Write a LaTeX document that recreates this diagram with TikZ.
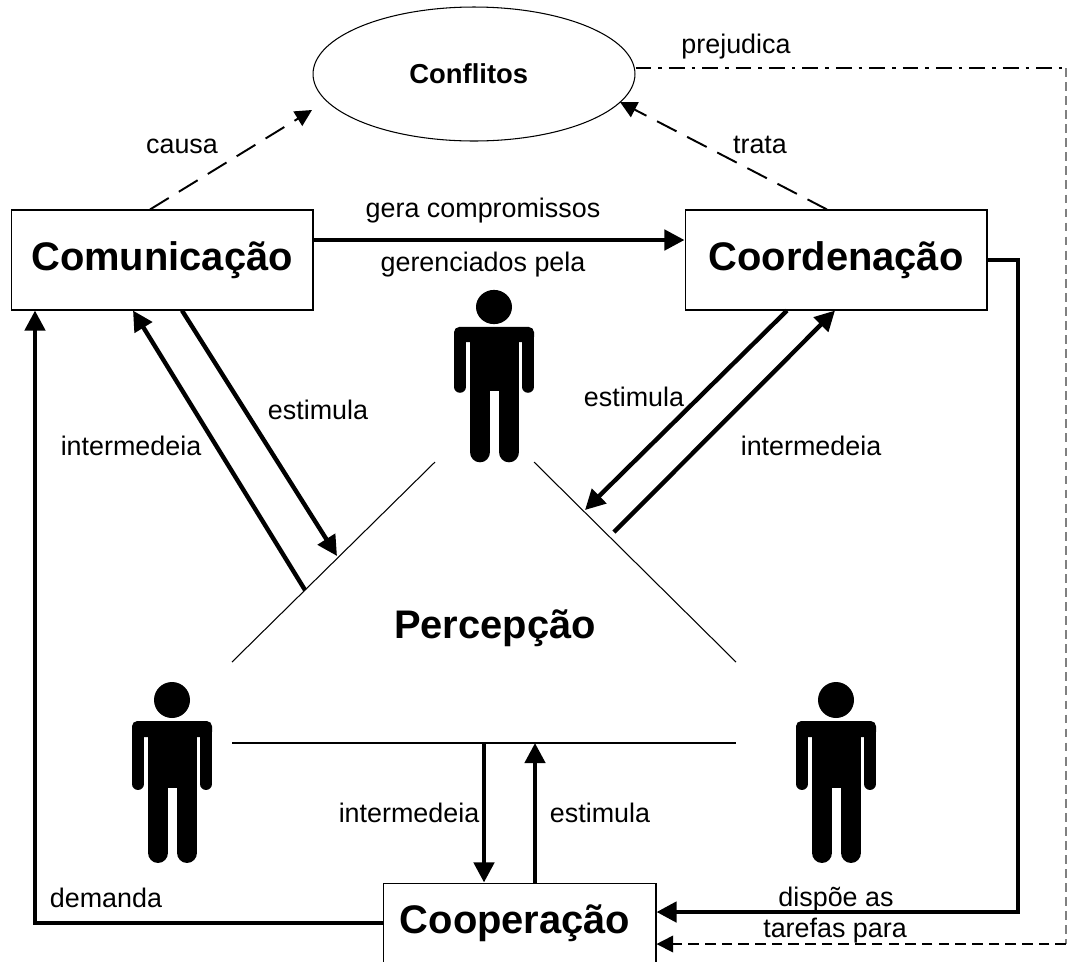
\documentclass[tikz,border=0pt]{standalone}
\usepackage{fontspec}
\setmainfont{Liberation Sans}
\usetikzlibrary{arrows.meta,calc,shapes.geometric}
\newcommand{\boxfont}{\fontsize{22.7}{26}\bfseries\selectfont}
\newcommand{\labelfont}{\fontsize{15.3}{18}\selectfont}
\tikzset{
  box/.style={draw, line width=0.6pt, fill=white, minimum width=6.04cm, minimum height=2cm, inner sep=0pt, font=\boxfont},
  lbl/.style={inner sep=0pt, font=\labelfont},
  thick arrow/.style={line width=2.5pt, -{Triangle[length=11.4pt,width=11.4pt]}},
  dash arrow/.style={line width=1.1pt, dash pattern=on 12.5pt off 6.8pt, -{Triangle[length=9.5pt,width=9.5pt]}},
  thin line/.style={line width=0.6pt},
  person/.pic={
    \fill (0,0) circle (18);
    \fill[rounded corners=3pt] (-40,21) rectangle (40,37);
    \fill (-24,25) rectangle (25,88);
    \draw[line width=6.8pt, line cap=round] (-34,29) -- (-34,84);
    \draw[line width=6.8pt, line cap=round] (34,29) -- (34,84);
    \draw[line width=11.9pt, line cap=round] (-14,86) -- (-14,152.5);
    \draw[line width=11.9pt, line cap=round] (15,86) -- (15,152.5);
  }
}
\begin{document}
\begin{tikzpicture}[x=0.02cm, y=-0.02cm]
\useasboundingbox (0,0) rectangle (1067,961);
\clip (0,0) rectangle (1067,961);

\node (Conf) at (474,74) [draw, ellipse, line width=0.6pt, minimum width=6.44cm, minimum height=2.68cm, inner sep=0pt, font=\fontsize{15.6}{18}\bfseries\selectfont] {\hspace*{-6pt}Conflitos};
\node (Com) at (162,260) [box] {Comunica\c{c}ão};
\node (Coord) at (836,260) [box] {Coordena\c{c}ão};
\node (Coop) at (519.5,923) [box, minimum width=5.46cm, minimum height=1.6cm] {\hspace*{-5pt}Coopera\c{c}ão};
\node (Perc) at (495,628) [font=\boxfont, inner sep=0pt] {Percep\c{c}ão};

\pic (topman) [yscale=0.95] at (494,307) {person};
\pic (leftman) at (172,700) {person};
\pic (rightman) at (836,700) {person};

% triangulo
\coordinate (TA) at (435,462);
\coordinate (TB) at (232,662);
\coordinate (TC) at (534,462);
\coordinate (TD) at (736,662);
\coordinate (TE) at (232,743);
\coordinate (TF) at (736,743);
\draw [thin line] (TA) -- (TB);
\draw [thin line] (TC) -- (TD);
\draw [thin line] (TE) -- (TF);

% pontos no triangulo
\coordinate (P1) at (305,590);
\coordinate (P2) at (337,556);
\coordinate (P3) at (585,510);
\coordinate (P4) at (614,532);
\coordinate (P5) at (484,743);
\coordinate (P6) at (535,743);
\coordinate (K1) at (1018,260);
\coordinate (K2) at (1018,912);
\coordinate (K3) at (35,923);

\draw [thick arrow] (Com.east |- 0,240) -- (Coord.west |- 0,240);
\draw [thick arrow] (P1) -- ($(Com.south)+(-29,0)$);
\draw [thick arrow] ($(Com.south)+(20,0)$) -- (P2);
\draw [thick arrow] ($(Coord.south)+(-49,0)$) -- (P3);
\draw [thick arrow] (P4) -- ($(Coord.south)+(-1,0)$);
\draw [thick arrow] (P5) -- (P5 |- Coop.north);
\draw [thick arrow] (P6 |- Coop.north) -- (P6);
\draw [thick arrow] (Coord.east) -- (K1) -- (K2) -- (Coop.east |- K2);
\draw [thick arrow] (Coop.west) -- (K3) -- (K3 |- Com.south);

\draw [dash arrow] ($(Com.north)+(-12,0)$) -- (312,110);
\draw [dash arrow] ($(Coord.north)+(-9,0)$) -- (620,102);

\coordinate (R1) at (1066,68);
\coordinate (R2) at (1066,944);
\draw [line width=1pt, dash pattern=on 9pt off 4pt on 2pt off 4pt] (Conf.east |- R1) -- (R1);
\draw [line width=0.6pt, gray, dash pattern=on 5pt off 3pt] (R1) -- (R2);
\draw [dash arrow, line width=1pt, dash pattern=on 6pt off 3.5pt] (R2) -- (Coop.east |- R2);

\node (causa) at (182,146) [lbl] {causa};
\node (trata) at (760,145) [lbl] {trata};
\node (prej) at (736,47) [lbl] {prejudica};
\node (gera) at (483,211) [lbl] {gera compromissos};
\node (ger) at (483,265) [lbl] {gerenciados pela};
\node (est1) at (318,410) [lbl] {estimula};
\node (int1) at (131,446) [lbl] {intermedeia};
\node (est2) at (634,397) [lbl] {estimula};
\node (int2) at (811,446) [lbl] {intermedeia};
\node (int3) at (409,813) [lbl] {intermedeia};
\node (est3) at (600,813) [lbl] {estimula};
\node (dem) at (106,898) [lbl] {demanda};
\node (disp) at (836,900) [lbl] {dispõe as};
\node (tar) at (835,931) [lbl] {tarefas para};
\end{tikzpicture}
\end{document}
